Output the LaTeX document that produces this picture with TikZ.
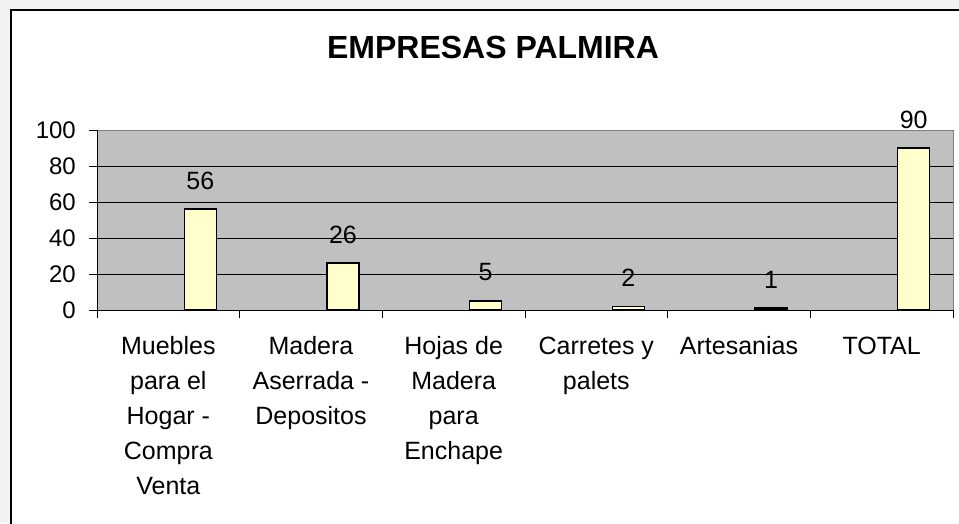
\documentclass[tikz,border=0pt]{standalone}
\usepackage{fontspec}
\setmainfont{Liberation Sans}
\definecolor{bgout}{HTML}{F2F2F2}
\definecolor{plotbg}{HTML}{C0C0C0}
\definecolor{barfill}{HTML}{FFFFCC}
\definecolor{plotedge}{HTML}{808080}
\newcommand{\firstline}{\rule{0pt}{18pt}}
\begin{document}
\begin{tikzpicture}[x=1pt,y=-1pt,
  lbl/.style={inner sep=0pt, font=\fontsize{25}{35}\selectfont},
  catlbl/.style={lbl, anchor=north, align=center},
  axlbl/.style={inner sep=0pt, font=\fontsize{24}{30}\selectfont, anchor=east},
  barbox/.style={draw=black, line width=1.6pt, fill=barfill},
  grid line/.style={draw=black, line width=1pt},
  tickmark/.style={draw=black, line width=1pt}]
\useasboundingbox (0,0) rectangle (959,523);
\fill[bgout] (0,0) rectangle (959,523);
\clip (0,0) rectangle (959,523);
% chart area
\draw[line width=2pt, fill=white] (11,10) rectangle (990,560);
% title
\node[inner sep=0pt, font=\fontsize{32}{38}\selectfont\bfseries] (title) at (493,47.5) {EMPRESAS PALMIRA};
% plot area
\fill[plotbg] (97,130) rectangle (953,310);
\foreach \v in {20,40,60,80}{
  \draw[grid line] (97,{310-1.8*\v}) -- (953,{310-1.8*\v});
}
\draw[plotedge, line width=1pt] (97,130) -- (953,130) -- (953,310);
\draw[black, line width=1pt] (97,130) -- (97,310) -- (953,310);
% y ticks and labels
\foreach \v in {0,20,40,60,80,100}{
  \draw[tickmark] (89,{310-1.8*\v}) -- (97,{310-1.8*\v});
  \node[axlbl] (ax\v) at (76,{310-1.8*\v}) {\v};
}
% x ticks
\foreach \i in {0,...,6}{
  \draw[tickmark] ({97+142.667*\i},310) -- ({97+142.667*\i},318);
}
% bars and value labels
\foreach \i/\v in {0/56,1/26,2/5,3/2,4/1,5/90}{
  \pgfmathsetmacro{\c}{97+142.667*(\i+0.5)}
  \draw[barbox] ({\c+16},310) rectangle ({\c+48},{310-1.8*\v});
  \node[lbl] (val\i) at ({\c+32},{310-1.8*\v-28.5}) {\v};
}
% category labels
\node[catlbl] (cat0) at ({97+142.667*0.5},336) {\firstline Muebles\\para el\\Hogar -\\Compra\\Venta};
\node[catlbl] (cat1) at ({97+142.667*1.5},336) {\firstline Madera\\Aserrada -\\Depositos};
\node[catlbl] (cat2) at ({97+142.667*2.5},336) {\firstline Hojas de\\Madera\\para\\Enchape};
\node[catlbl] (cat3) at ({97+142.667*3.5},336) {\firstline Carretes y\\palets};
\node[catlbl] (cat4) at ({97+142.667*4.5},336) {\firstline Artesanias};
\node[catlbl] (cat5) at ({97+142.667*5.5},336) {\firstline TOTAL};
\end{tikzpicture}
\end{document}
